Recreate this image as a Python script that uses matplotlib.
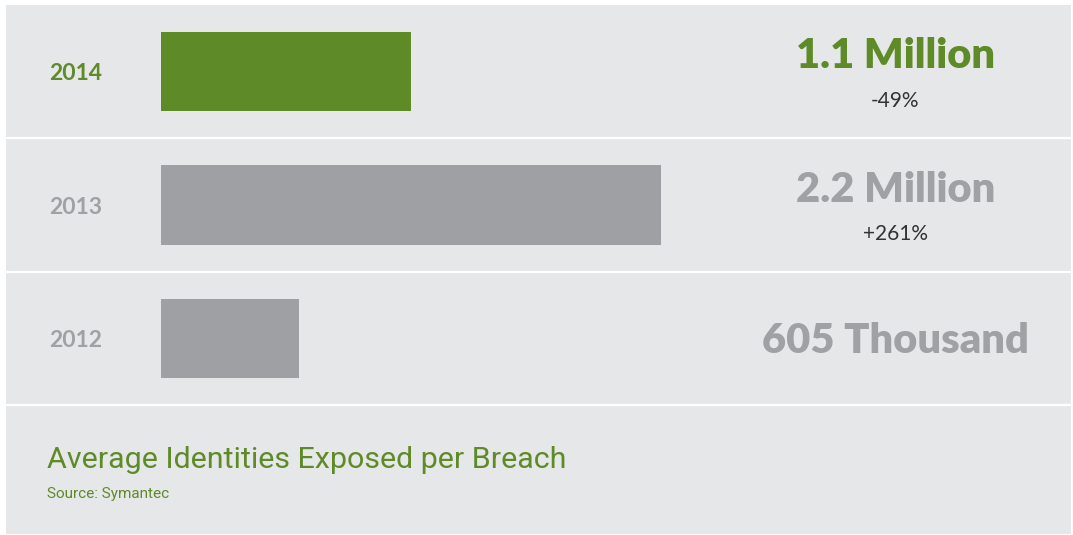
import matplotlib.pyplot as plt
from matplotlib.patches import Rectangle
from matplotlib.transforms import blended_transform_factory

# data, in millions of identities
years = ["2012", "2013", "2014"]
identities = [0.605, 2.2, 1.1]
value_labels = ["605 Thousand", "2.2 Million", "1.1 Million"]
change_labels = ["", "+261%", "-49%"]

GREEN = "#5e8a28"
GRAY_BAR = "#9fa0a3"
GRAY_TXT = "#a0a1a4"
PANEL = "#e6e7e8"
DARK = "#333333"

W, H = 1073, 535
fig = plt.figure(figsize=(W / 100, H / 100), dpi=100)
fig.patch.set_facecolor("white")

# grey panel behind everything
fig.patches.append(Rectangle((6 / W, 1 - 534 / H), (1071 - 6) / W, (534 - 5) / H,
                             transform=fig.transFigure, facecolor=PANEL,
                             edgecolor="none", zorder=-5))

# axes for the three rows: x from 6 to 1071 px, y from 5 to 405 px
ax = fig.add_axes([6 / W, 1 - 405 / H, (1071 - 6) / W, 400 / H])
ax.set_zorder(2)
ax.patch.set_alpha(0)
px_per_unit = 500 / 2.2
ax.set_xlim(-(161 - 6) / px_per_unit, (1071 - 161) / px_per_unit)
ax.set_ylim(-0.5, 2.5)
ax.axis("off")

colors = [GRAY_BAR, GRAY_BAR, GREEN]
ax.barh(range(len(years)), identities, height=0.595, left=0, color=colors, zorder=2)

# row separators
for y in [-0.5, 0.5, 1.5]:
    ax.axhline(y, color="white", lw=1.6, clip_on=False, zorder=1)

tr = blended_transform_factory(ax.transAxes, ax.transData)
txt_colors = [GRAY_TXT, GRAY_TXT, GREEN]
for i, year in enumerate(years):
    ax.text((49 - 6) / 1065, i - 0.064, year, transform=tr, ha="left", va="baseline",
            fontsize=16.5, fontweight="bold", family="Lato", color=txt_colors[i])
    if change_labels[i]:
        ax.text((896 - 6) / 1065, i + 0.026, value_labels[i], transform=tr,
                ha="center", va="baseline", fontsize=30, fontweight="heavy",
                family="Lato", color=txt_colors[i])
        ax.text((895 - 6) / 1065, i - 0.266, change_labels[i], transform=tr,
                ha="center", va="baseline", fontsize=15, family="Lato", color=DARK)
    else:
        ax.text((895 - 6) / 1065, i - 0.109, value_labels[i], transform=tr,
                ha="center", va="baseline", fontsize=30, fontweight="heavy",
                family="Lato", color=txt_colors[i])

fig.text(47 / W, 1 - 468 / H, "Average Identities Exposed per Breach",
         ha="left", va="baseline", fontsize=21.9, family="Roboto", color=GREEN)
fig.text(47 / W, 1 - 498 / H, "Source: Symantec", ha="left", va="baseline",
         fontsize=11, family="Roboto", color=GREEN)

fig.savefig("out.png", dpi=100, facecolor=fig.get_facecolor())
